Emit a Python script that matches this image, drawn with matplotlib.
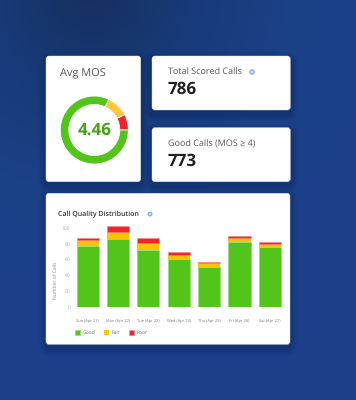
import numpy as np
import matplotlib
matplotlib.use("Agg")
import matplotlib.pyplot as plt
from matplotlib.colors import LinearSegmentedColormap
from matplotlib.patches import FancyBboxPatch, Circle

plt.rcParams['font.family'] = ['Open Sans', 'DejaVu Sans']
plt.rcParams['text.hinting'] = 'no_hinting'
plt.rcParams['text.hinting_factor'] = 1

# du lieu doc tu hinh
days = ["Sun (Apr 21)", "Mon (Apr 22)", "Tue (Apr 23)", "Wed (Apr 24)",
        "Thu (Apr 25)", "Fri (Apr 26)", "Sat (Apr 27)"]
good = [77.5, 86, 72.5, 60.5, 50.5, 82, 75.5]
fair = [7, 9, 8.5, 5, 4.5, 5.5, 4.5]
poor = [2.5, 7, 6, 4.5, 2, 2, 2]
y_ticks = [0, 20, 40, 60, 80, 100]
mos_share = [82, 10.5, 7.5]

GREEN = "#52c41a"
YELLOW = "#ffc400"
DONUT_YELLOW = "#ffc53d"
RED = "#f5222d"

W, H = 356, 400
fig = plt.figure(figsize=(W / 100, H / 100), dpi=100)


def px_axes(left, top, right, bottom):
    return fig.add_axes([left / W, 1 - bottom / H, (right - left) / W, (bottom - top) / H])


# nen gradient, toi o goc tren ben trai
bg = fig.add_axes([0, 0, 1, 1])
bg.set_xlim(0, W)
bg.set_ylim(H, 0)
bg.axis("off")
cmap = LinearSegmentedColormap.from_list("nen", ["#16305f", "#183a78", "#1a4086", "#1b4089"])
xx, yy = np.meshgrid(np.linspace(0, 1, 80), np.linspace(0, 1, 80))
dist = np.hypot((xx - 0.25) * 0.9, yy + 0.02)
bg.imshow(np.clip(dist / 0.75, 0, 1), cmap=cmap, extent=(0, W, H, 0), aspect="auto", vmin=0, vmax=1)


def card(x0, y0, x1, y1):
    # bong mo nhieu lop
    for k in range(7, 0, -1):
        bg.add_patch(FancyBboxPatch((x0 - k, y0 - k + 4), x1 - x0 + 2 * k, y1 - y0 + 2 * k,
                                    boxstyle="round,pad=0,rounding_size=%d" % (3 + k),
                                    fc="#0b1f4a", ec="none", alpha=0.045))
    bg.add_patch(FancyBboxPatch((x0, y0), x1 - x0, y1 - y0, boxstyle="round,pad=0,rounding_size=3",
                                fc="white", ec="#e6eaf2", lw=0.3))


def info(x, y, r):
    bg.add_patch(Circle((x, y), r, fc="#cfe2fb", ec="#6ea8ee", lw=0.8))


card(46, 56, 140.7, 181.7)
card(152, 56, 290.3, 110)
card(152, 127.7, 290.3, 181.7)
card(46, 193.3, 290, 344.3)

bg.text(60, 73.5, "Avg MOS", fontsize=7.7, color="#555555", va="center")
bg.text(167.7, 72, "Total Scored Calls", fontsize=6.8, color="#555555", va="center")
info(252, 72, 2.2)
bg.text(167.5, 89.5, "786", fontsize=12.6, fontweight="bold", color="#222222", va="center")
bg.text(167.7, 144, "Good Calls (MOS ≥ 4)", fontsize=6.8, color="#555555", va="center")
bg.text(167.5, 161.5, "773", fontsize=12.6, fontweight="bold", color="#222222", va="center")
bg.text(58, 214, "Call Quality Distribution", fontsize=5.4, fontweight="semibold",
        color="#333333", va="center")
info(150, 214, 1.8)

# donut
donut = px_axes(60, 96, 128.6, 164)
donut.pie(mos_share[::-1], colors=[RED, DONUT_YELLOW, GREEN], startangle=0, radius=1,
          wedgeprops=dict(width=0.25, edgecolor="white", linewidth=0.6))
donut.set_xlim(-1, 1)
donut.set_ylim(-1, 1)
donut.text(0, 0, "4.46", fontsize=12.2, fontweight="bold", color="#3fa512", ha="center", va="center")

# bieu do cot
ax = px_axes(72.5, 226, 285, 306.7)
ax.patch.set_alpha(0)
x = np.arange(len(days))
good_a = np.array(good)
fair_a = np.array(fair)
b1 = ax.bar(x, good, width=0.73, color=GREEN, edgecolor="#8fd868", linewidth=0.4, label="Good")
b2 = ax.bar(x, fair, width=0.73, bottom=good_a, color=YELLOW, label="Fair")
b3 = ax.bar(x, poor, width=0.73, bottom=good_a + fair_a, color=RED, edgecolor="#fa8a90",
            linewidth=0.4, label="Poor")
ax.set_xlim(-0.5, 6.5)
ax.set_ylim(0, 102.5)
ax.set_yticks(y_ticks)
ax.set_xticks(x, days)
ax.tick_params(length=0, labelsize=3.2, labelcolor="#777777", pad=8.5, axis="x")
ax.tick_params(length=0, labelsize=3.4, labelcolor="#aaaaaa", pad=1.5, axis="y")
for s in ax.spines.values():
    s.set_visible(False)
ax.set_ylabel("Number of Calls", fontsize=3.4, color="#888888")
ax.yaxis.set_label_coords(-0.067, 0.33)
ax.legend(handles=[b1, b2, b3], loc="lower left", bbox_to_anchor=(0.012, -0.357), ncol=3, frameon=False,
          fontsize=3.5, labelcolor="#666666", handlelength=1.05, handleheight=1.05, handletextpad=0.5,
          columnspacing=1.75, borderaxespad=0, borderpad=0)

fig.savefig("out.png", dpi=100)
